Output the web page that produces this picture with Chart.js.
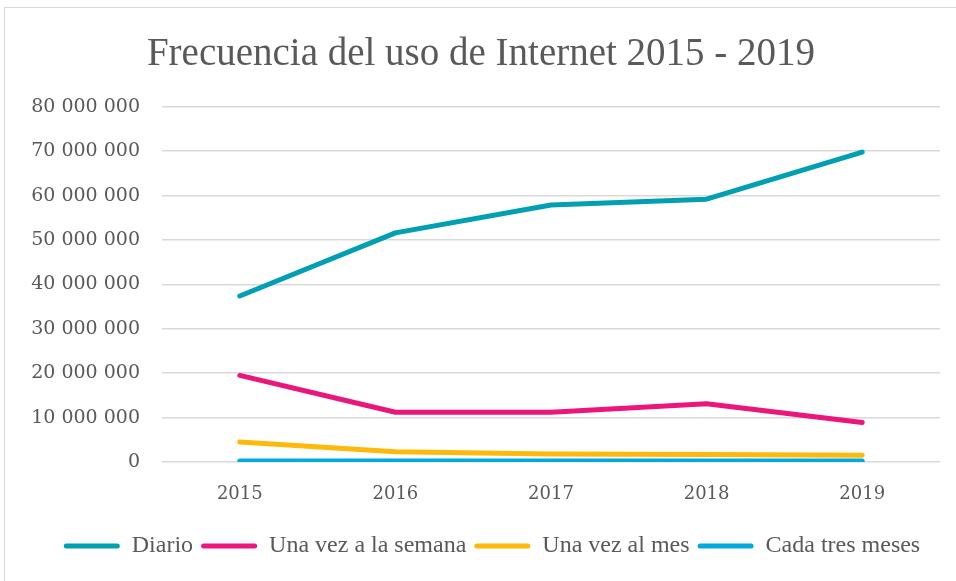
<!DOCTYPE html>
<html>
<head>
<meta charset="utf-8">
<script src="https://cdn.jsdelivr.net/npm/chart.js@4"></script>
<style>
    html, body { margin: 0; padding: 0; background: #ffffff; }
    #wrap { position: relative; width: 956px; height: 581px; overflow: hidden; }
    #frame { position: absolute; left: 4px; top: 7px; width: 1000px; height: 700px; border: 1px solid #d9d9d9; }
    #chart { position: absolute; left: 0; top: 0; }
</style>
</head>
<body>
<div id="wrap">
    <div id="frame"></div>
    <canvas id="chart" width="956" height="581"></canvas>
</div>
<script>
// años
const years = ['2015', '2016', '2017', '2018', '2019'];

// personas por frecuencia de uso
const diario = [37400000, 51600000, 57900000, 59200000, 69800000];
const semana = [19500000, 11200000, 11200000, 13100000, 8900000];
const mes = [4500000, 2300000, 1800000, 1700000, 1500000];
const tresMeses = [200000, 200000, 200000, 200000, 200000];

const yTicks = [0, 10000000, 20000000, 30000000, 40000000, 50000000, 60000000, 70000000, 80000000];

const COLORS = {
    diario: 'rgb(0, 160, 178)',
    semana: 'rgb(234, 22, 124)',
    mes: 'rgb(255, 185, 10)',
    tres: 'rgb(0, 170, 220)'
};

const FONT = "'Liberation Serif', 'DejaVu Serif', serif";
const TICK_FONT = "'DejaVu Serif', 'Liberation Serif', serif";
const GREY = '#595959';

function serie(label, data, color) {
    return {
        label: label,
        data: data,
        borderColor: color,
        backgroundColor: color,
        borderWidth: 5,
        borderCapStyle: 'round',
        borderJoinStyle: 'round',
        pointRadius: 0,
        pointHoverRadius: 0,
        tension: 0,
        fill: false
    };
}

// formato "80 000 000"
function miles(v) {
    return String(v).replace(/\B(?=(\d{3})+(?!\d))/g, ' ');
}

// titulo y leyenda un poco a la derecha, como en el original
const shiftBlocks = {
    id: 'shiftBlocks',
    afterLayout(chart) {
        chart.titleBlock.left += 22;
        chart.legend.left += 44;
    }
};

const ctx = document.getElementById('chart');
const myChart = new Chart(ctx, {
    type: 'line',
    data: {
        labels: years,
        datasets: [
            serie('Diario', diario, COLORS.diario),
            serie('Una vez a la semana', semana, COLORS.semana),
            serie('Una vez al mes', mes, COLORS.mes),
            serie('Cada tres meses', tresMeses, COLORS.tres)
        ]
    },
    plugins: [shiftBlocks],
    options: {
        responsive: false,
        animation: false,
        layout: { padding: { left: 0, right: 16, top: 0, bottom: 13 } },
        plugins: {
            tooltip: { enabled: false },
            title: {
                display: true,
                text: 'Frecuencia del uso de Internet 2015 - 2019',
                color: GREY,
                font: { family: FONT, size: 39, weight: 'normal' },
                padding: { top: 31, bottom: 29 }
            },
            legend: {
                position: 'bottom',
                labels: {
                    color: GREY,
                    font: { family: FONT, size: 24 },
                    boxWidth: 56,
                    boxHeight: 5,
                    padding: 8,
                    useBorderRadius: true,
                    borderRadius: 2.5,
                    generateLabels: (chart) => {
                        const items = Chart.defaults.plugins.legend.labels.generateLabels(chart);
                        for (let it of items) {
                            it.fillStyle = it.strokeStyle;
                            it.lineWidth = 0;
                        }
                        return items;
                    }
                }
            }
        },
        scales: {
            x: {
                offset: true,
                grid: { display: false, drawTicks: false },
                border: { display: false },
                ticks: {
                    color: GREY,
                    font: { family: TICK_FONT, size: 18 },
                    padding: 22
                },
                afterFit: (scale) => { scale.height = 64; }
            },
            y: {
                min: 0,
                max: 80000000,
                afterBuildTicks: (scale) => {
                    scale.ticks = yTicks.map(v => ({ value: v }));
                },
                grid: { color: '#d9d9d9', lineWidth: 1.5, drawTicks: false },
                border: { display: false },
                ticks: {
                    color: GREY,
                    font: { family: TICK_FONT, size: 19 },
                    padding: 22,
                    callback: (v) => miles(v)
                },
                afterFit: (scale) => { scale.width = 162; }
            }
        }
    }
});
</script>
</body>
</html>
